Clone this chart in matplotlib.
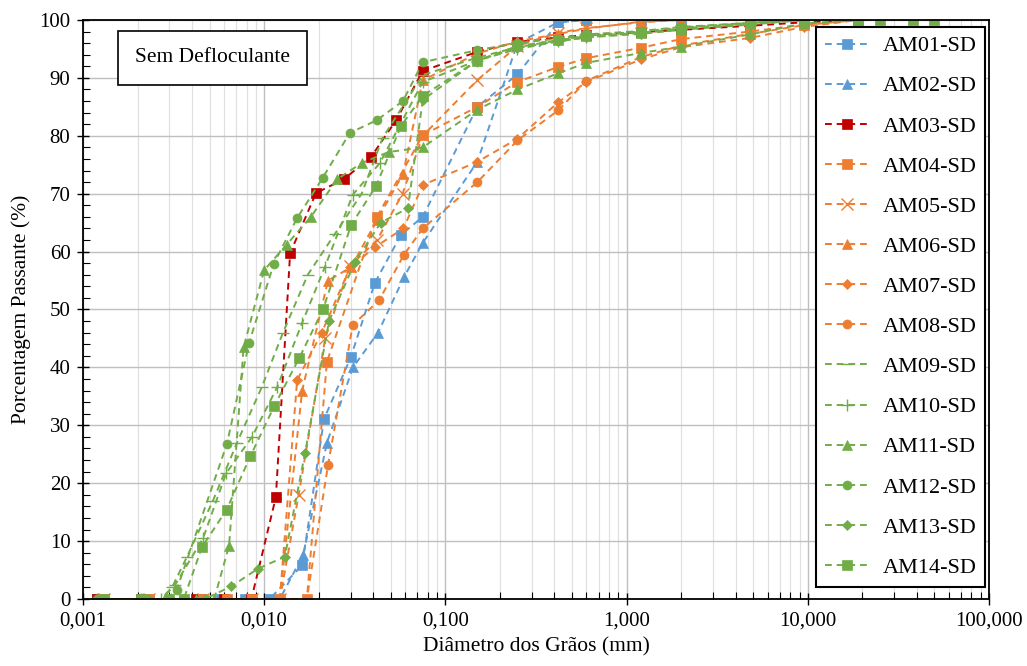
import numpy as np
import matplotlib.pyplot as plt
from matplotlib.ticker import FixedLocator, FuncFormatter, MultipleLocator

plt.rcParams['font.family'] = ['Liberation Serif', 'DejaVu Serif']

# cores por grupo de amostras
BLUE = '#5B9BD5'
RED = '#C00000'
ORANGE = '#ED7D31'
GREEN = '#70AD47'

# diametro (mm) e porcentagem passante de cada amostra
am01_d = [0.0012, 0.0023, 0.0045, 0.0058, 0.0078, 0.0107, 0.0162, 0.0214, 0.0301, 0.0408, 0.0569,
          0.075, 0.15, 0.25, 0.42, 0.6, 1.2, 2.0, 4.8, 9.5, 19]
am01_p = [0, 0, 0, 0, 0, 0, 5.8, 31.1, 41.8, 54.6, 62.9,
          66.0, 85.0, 90.6, 99.6, 100, 100, 100, 100, 100, 100]

am02_d = [0.0012, 0.0023, 0.0045, 0.0078, 0.0122, 0.0164, 0.0222, 0.0309, 0.0425, 0.0591,
          0.075, 0.15, 0.25, 0.42, 0.6, 1.2, 2.0, 4.8, 9.5, 19]
am02_p = [0, 0, 0, 0, 0, 7.6, 27.0, 40.0, 46.0, 55.6,
          61.5, 75.5, 96.0, 99.6, 100, 100, 100, 100, 100, 100]

am03_d = [0.0012, 0.0021, 0.0042, 0.0060, 0.0085, 0.0116, 0.0139, 0.0193, 0.0275, 0.0388, 0.0535,
          0.075, 0.15, 0.25, 0.42, 0.6, 1.2, 2.0, 4.8, 9.5, 19]
am03_p = [0, 0, 0, 0, 0, 17.6, 59.7, 70.1, 72.5, 76.3, 82.7,
          91.2, 94.5, 96.2, 97.0, 97.4, 97.9, 98.3, 99.0, 99.6, 100]

am04_d = [0.0013, 0.0023, 0.0046, 0.0062, 0.0086, 0.0122, 0.0172, 0.0222, 0.0419,
          0.075, 0.15, 0.25, 0.42, 0.6, 1.2, 2.0, 4.8, 9.5, 19]
am04_p = [0, 0, 0, 0, 0, 0, 0, 41.0, 66.0,
          80.1, 85.0, 89.3, 91.9, 93.4, 95.2, 96.7, 98.0, 99.2, 100]

am05_d = [0.0013, 0.0023, 0.0046, 0.0086, 0.0122, 0.0155, 0.0217, 0.0297, 0.0420, 0.0580,
          0.075, 0.15, 0.25, 0.42, 0.6, 1.2, 2.0, 4.8]
am05_p = [0, 0, 0, 0, 0, 18.0, 45.0, 57.5, 62.0, 70.0,
          80.0, 89.6, 95.5, 97.8, 98.6, 99.6, 100, 100]

am06_d = [0.0013, 0.0023, 0.0046, 0.0086, 0.0122, 0.0162, 0.0225, 0.0302, 0.0420, 0.0584,
          0.075, 0.15, 0.25, 0.42, 0.6, 1.2, 2.0, 4.8]
am06_p = [0, 0, 0, 0, 0, 36.0, 55.0, 57.3, 65.5, 73.4,
          89.6, 94.2, 96.3, 97.6, 98.5, 99.7, 100, 100]

am07_d = [0.0013, 0.0023, 0.0046, 0.0086, 0.0122, 0.0152, 0.0208, 0.0298, 0.0410, 0.0587,
          0.075, 0.15, 0.25, 0.42, 0.6, 1.2, 2.0, 4.8, 9.5, 19]
am07_p = [0, 0, 0, 0, 0, 37.8, 46.0, 57.3, 60.8, 64.0,
          71.5, 75.5, 79.5, 85.8, 89.3, 93.2, 95.3, 96.9, 98.8, 100]

am08_d = [0.0013, 0.0023, 0.0046, 0.0086, 0.0122, 0.0172, 0.0225, 0.0308, 0.0431, 0.0589,
          0.075, 0.15, 0.25, 0.42, 0.6, 1.2, 2.0, 4.8, 9.5, 19]
am08_p = [0, 0, 0, 0, 0, 0, 23.1, 47.3, 51.6, 59.4,
          64.0, 72.0, 79.2, 84.4, 89.5, 93.6, 95.6, 97.6, 99.1, 100]

am09_d = [0.0012, 0.0020, 0.0027, 0.0031, 0.00375, 0.00522, 0.00708, 0.0097, 0.0127, 0.0174, 0.0245,
          0.0345, 0.045, 0.075, 0.15, 0.25, 0.42, 0.6, 1.2, 2.0, 4.8, 9.5, 19]
am09_p = [0, 0, 0, 2.0, 7.3, 17.0, 27.0, 36.6, 46.0, 56.0, 63.0,
          70.0, 79.6, 90.5, 93.5, 95.3, 96.5, 97.3, 98.0, 98.7, 99.5, 100, 100]

am10_d = [0.0012, 0.0021, 0.0027, 0.00322, 0.0046, 0.00616, 0.00857, 0.0118, 0.0162, 0.0216, 0.0308,
          0.0435, 0.075, 0.15, 0.25, 0.42, 0.6, 1.2, 2.0, 4.8, 9.5, 19]
am10_p = [0, 0, 0, 2.4, 10.5, 21.7, 28.0, 36.6, 47.7, 57.3, 69.8,
          75.3, 89.3, 93.0, 95.0, 96.3, 97.0, 97.8, 98.5, 99.3, 100, 100]

am11_d = [0.0012, 0.0020, 0.0031, 0.0042, 0.0053, 0.0064, 0.0077, 0.0100, 0.0133, 0.0181, 0.0253,
          0.0345, 0.0487, 0.075, 0.15, 0.25, 0.42, 0.6, 1.2, 2.0, 4.8, 9.5, 19]
am11_p = [0, 0, 0, 0, 0, 9.2, 43.5, 56.8, 61.2, 66.0, 72.5,
          75.3, 77.2, 78.0, 84.5, 88.0, 90.8, 92.6, 94.3, 95.4, 97.5, 99.4, 100]

am12_d = [0.0012, 0.0021, 0.0029, 0.00329, 0.00623, 0.00825, 0.0113, 0.0152, 0.0210, 0.0297, 0.0419,
          0.0583, 0.075, 0.15, 0.25, 0.42, 0.6, 1.2, 2.0, 4.8, 9.5, 19]
am12_p = [0, 0, 0, 1.6, 26.8, 44.2, 57.9, 65.8, 72.7, 80.5, 82.7,
          86.0, 92.7, 94.8, 96.0, 96.8, 97.5, 98.1, 98.8, 99.5, 100, 100]

am13_d = [0.0013, 0.0023, 0.0035, 0.0047, 0.0066, 0.0092, 0.0130, 0.0168, 0.0228, 0.0317, 0.0440,
          0.0621, 0.075, 0.15, 0.25, 0.42, 0.6, 1.2, 2.0, 4.8, 9.5, 19]
am13_p = [0, 0, 0, 0, 2.2, 5.2, 7.3, 25.2, 48.0, 58.2, 65.0,
          67.5, 86.2, 93.0, 95.2, 96.3, 97.0, 97.6, 98.3, 99.2, 100, 100]

am14_d = [0.0013, 0.0021, 0.0030, 0.0036, 0.00454, 0.0062, 0.0084, 0.0114, 0.0156, 0.0211, 0.0302,
          0.0414, 0.0569, 0.075, 0.15, 0.25, 0.42, 0.6, 1.2, 2.0, 4.8, 9.5, 19, 25, 38, 50]
am14_p = [0, 0, 0, 0, 9.0, 15.4, 24.7, 33.4, 41.6, 50.0, 64.6,
          71.3, 81.7, 86.9, 93.0, 95.5, 96.5, 97.2, 97.8, 98.5, 99.5, 100, 100, 100, 100, 100]

series = [
    ('AM01-SD', am01_d, am01_p, BLUE, 's', 6.5),
    ('AM02-SD', am02_d, am02_p, BLUE, '^', 7),
    ('AM03-SD', am03_d, am03_p, RED, 's', 6.5),
    ('AM04-SD', am04_d, am04_p, ORANGE, 's', 6.5),
    ('AM05-SD', am05_d, am05_p, ORANGE, 'x', 8),
    ('AM06-SD', am06_d, am06_p, ORANGE, '^', 7),
    ('AM07-SD', am07_d, am07_p, ORANGE, 'D', 5),
    ('AM08-SD', am08_d, am08_p, ORANGE, 'o', 6.5),
    ('AM09-SD', am09_d, am09_p, GREEN, '_', 9),
    ('AM10-SD', am10_d, am10_p, GREEN, '+', 9),
    ('AM11-SD', am11_d, am11_p, GREEN, '^', 7),
    ('AM12-SD', am12_d, am12_p, GREEN, 'o', 6.5),
    ('AM13-SD', am13_d, am13_p, GREEN, 'D', 5),
    ('AM14-SD', am14_d, am14_p, GREEN, 's', 6.5),
]

fig = plt.figure(figsize=(10.27, 6.66), dpi=100)
ax = fig.add_axes([0.0808, 0.1006, 0.8822, 0.8694])

for name, d, p, color, mk, ms in series:
    ax.plot(d, p, linestyle=(0, (3.5, 2.5)), linewidth=1.4, color=color,
            marker=mk, markersize=ms, markeredgewidth=1.0 if mk in ('x', '+', '_') else 0.5,
            markeredgecolor=color, label=name)

ax.set_xscale('log')
ax.set_xlim(0.001, 100)
ax.set_ylim(0, 100)

ax.xaxis.set_major_locator(FixedLocator([0.001, 0.01, 0.1, 1, 10, 100]))
ax.xaxis.set_major_formatter(FuncFormatter(lambda v, pos: f'{v:.3f}'.replace('.', ',')))
ax.yaxis.set_major_locator(MultipleLocator(10))
ax.yaxis.set_minor_locator(MultipleLocator(2))

ax.grid(True, which='major', color='#BFBFBF', linewidth=1.0)
ax.grid(True, which='minor', axis='x', color='#E0E0E0', linewidth=0.9)
ax.set_axisbelow(True)

ax.tick_params(axis='both', which='major', direction='inout', length=8, width=1,
               labelsize=15, pad=5)
ax.tick_params(axis='y', which='minor', direction='in', length=5, width=0.8)
ax.tick_params(axis='x', which='minor', direction='in', length=5, width=0.8)
for s in ax.spines.values():
    s.set_color('black')
    s.set_linewidth(1.3)

ax.set_xlabel('Diâmetro dos Grãos (mm)', fontsize=15.5, labelpad=5)
ax.set_ylabel('Porcentagem Passante (%)', fontsize=15.5, labelpad=6)

ax.text(0.0574, 0.951, 'Sem Defloculante', transform=ax.transAxes, fontsize=15.5,
        va='top', ha='left',
        bbox=dict(boxstyle='square,pad=0.8', facecolor='white', edgecolor='black', linewidth=1.2))

leg = ax.legend(loc='upper right', bbox_to_anchor=(0.996, 0.988), borderaxespad=0,
                fontsize=16, labelspacing=0.88, handlelength=2.0, handletextpad=0.6,
                numpoints=1, fancybox=False, framealpha=1, borderpad=0.4)
leg.get_frame().set_edgecolor('black')
leg.get_frame().set_linewidth(1.5)

plt.savefig('out.png', dpi=100)
